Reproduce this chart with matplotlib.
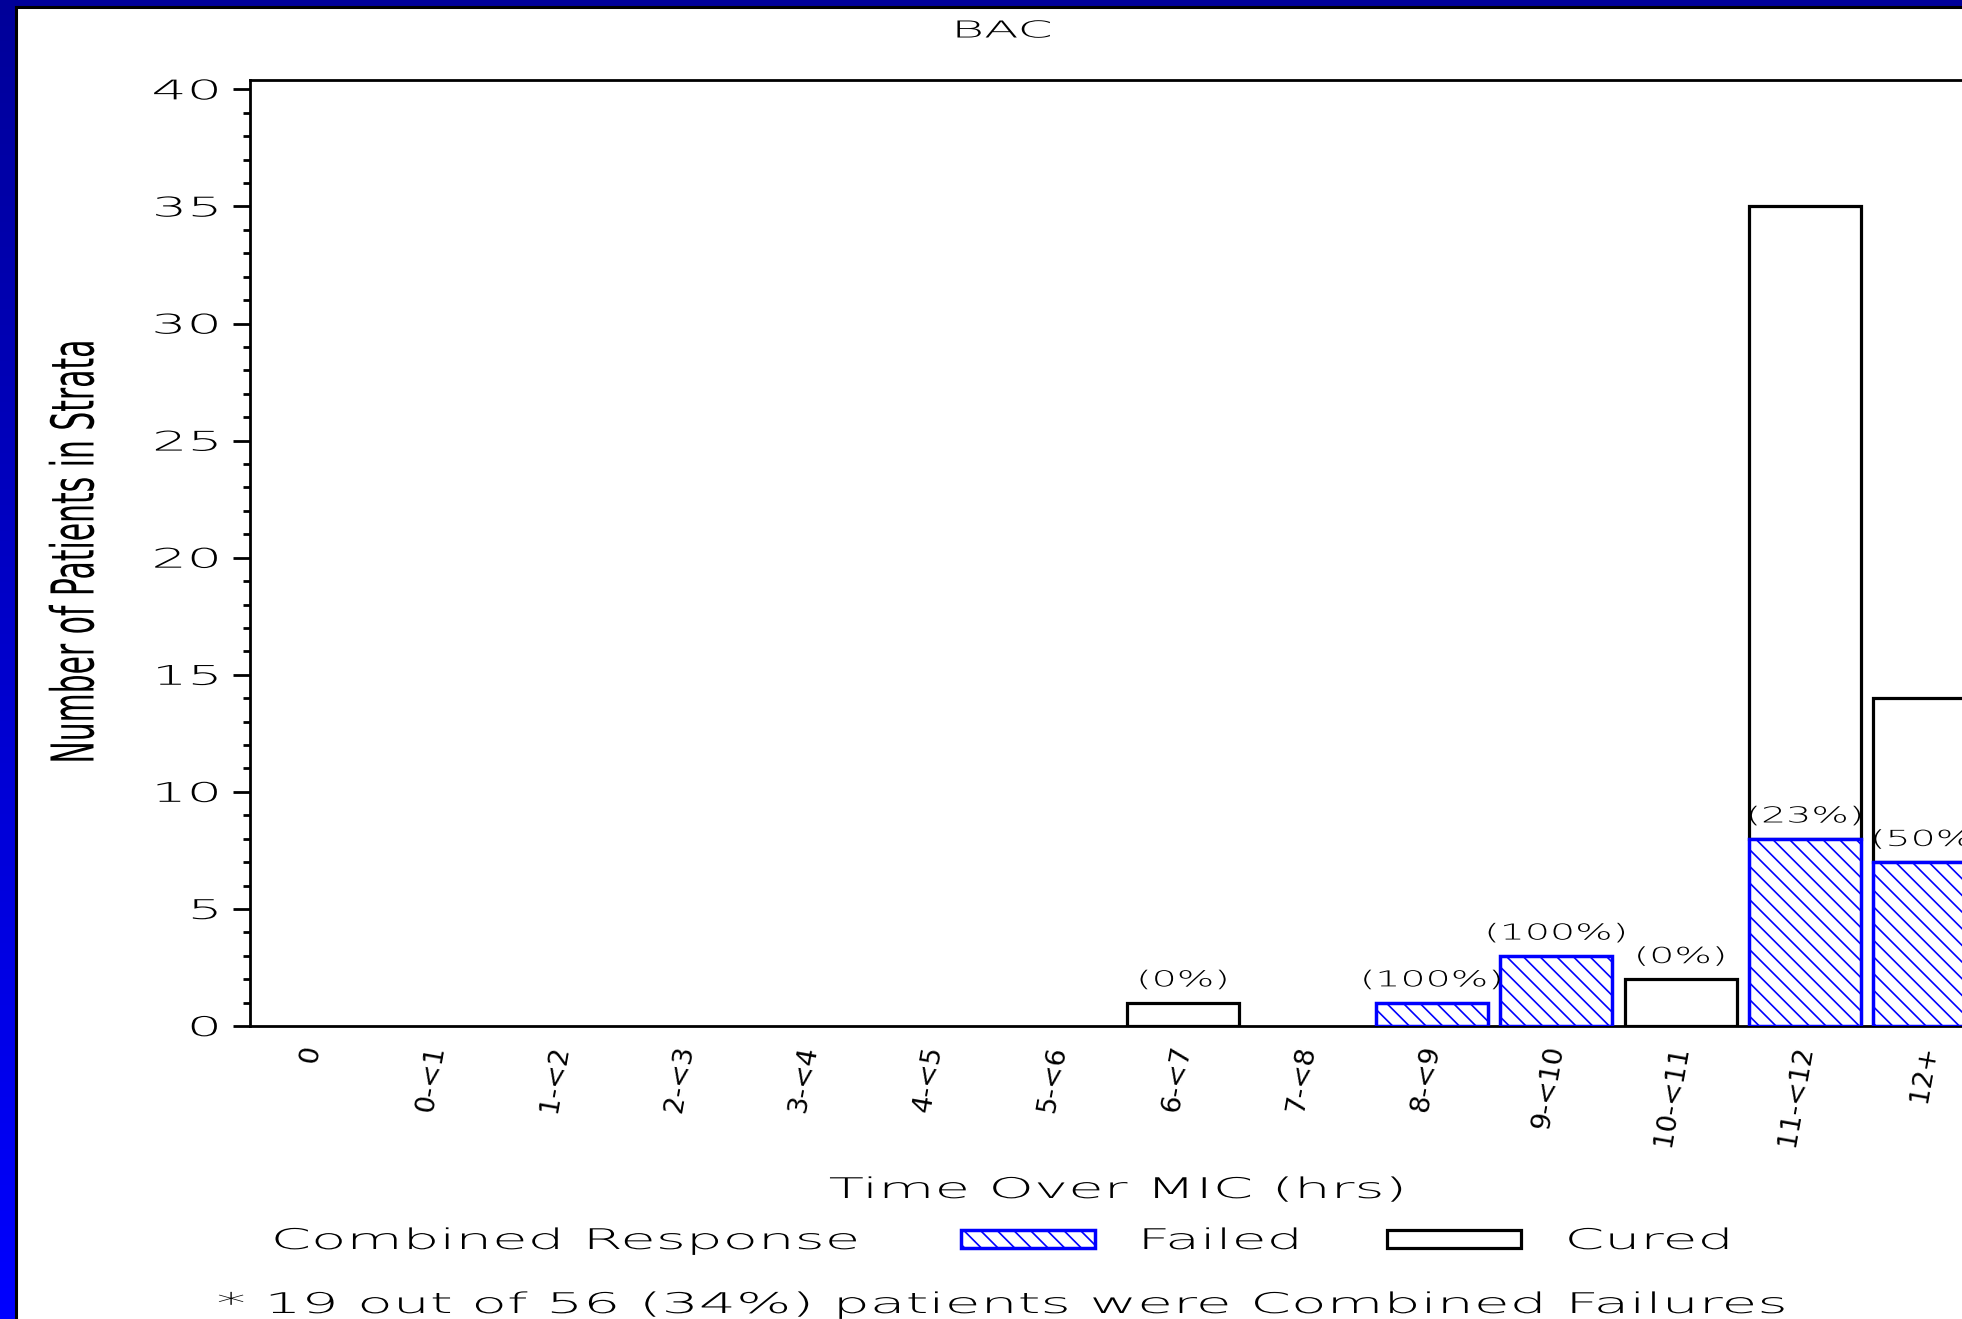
import numpy as np
import matplotlib
matplotlib.use("Agg")
import matplotlib.pyplot as plt
from matplotlib.patches import Rectangle
from matplotlib.patheffects import AbstractPathEffect
from matplotlib.transforms import Affine2D
from matplotlib.ticker import MultipleLocator

# data
categories = ['0', '0-<1', '1-<2', '2-<3', '3-<4', '4-<5', '5-<6', '6-<7',
              '7-<8', '8-<9', '9-<10', '10-<11', '11-<12', '12+']
failed = np.array([0, 0, 0, 0, 0, 0, 0, 0, 0, 1, 3, 0, 8, 7])
cured = np.array([0, 0, 0, 0, 0, 0, 0, 1, 0, 0, 0, 2, 27, 7])
title = 'BAC'
footnote = '* 19 out of 56 (34%) patients were Combined Failures'

W, H = 1962, 1319
plt.rcParams['font.family'] = ['DejaVu Sans']
plt.rcParams['font.weight'] = 'light'
plt.rcParams['axes.labelweight'] = 'light'
plt.rcParams['hatch.linewidth'] = 1.2


class Stretch(AbstractPathEffect):
    # widen/narrow glyphs of a text, the old SAS font is very wide
    def __init__(self, sx, sy=1.0, anchor='center'):
        super().__init__()
        self.sx, self.sy, self.anchor = sx, sy, anchor

    def draw_path(self, renderer, gc, tpath, affine, rgbFace=None):
        ext = tpath.get_extents()
        if self.anchor == 'left':
            px = ext.x0
        elif self.anchor == 'right':
            px = ext.x1
        else:
            px = (ext.x0 + ext.x1) / 2
        py = (ext.y0 + ext.y1) / 2
        t = Affine2D().translate(-px, -py).scale(self.sx, self.sy).translate(px, py) + affine
        renderer.draw_path(gc, tpath, t, rgbFace)


fig = plt.figure(figsize=(W / 100, H / 100), dpi=100)

# slide background: blue frame with white page
bg = fig.add_axes([0, 0, 1, 1])
bg.set_axis_off()
shade = np.zeros((256, 1, 3))
shade[:, 0, 2] = np.linspace(0.6, 1.0, 256)
bg.imshow(shade, aspect='auto', extent=(0, 1, 0, 1), origin='upper')
bg.add_patch(Rectangle((15.5 / W, -0.1), 2, 1.1 - 6.5 / H, facecolor='white',
                       edgecolor='black', lw=2.2, transform=bg.transAxes))
bg.set_xlim(0, 1)
bg.set_ylim(0, 1)

ax = fig.add_axes([250 / W, 293 / H, 1741.6 / W, 946 / H])
x = np.arange(len(categories))
total = failed + cured

m = cured > 0
cb = ax.bar(x[m], cured[m], bottom=failed[m], width=0.9, color='white',
            edgecolor='black', lw=2.3, zorder=2, label='Cured')
m = failed > 0
fb = ax.bar(x[m], failed[m], width=0.9, color='white', edgecolor='blue',
            hatch='\\\\', lw=2.5, zorder=3, label='Failed')

for i in range(len(x)):
    if total[i] == 0:
        continue
    base = failed[i] if failed[i] > 0 else total[i]
    pct = round(100 * failed[i] / total[i])
    ax.annotate('(%d%%)' % pct, (x[i], base), xytext=(0, 16),
                textcoords='offset points', ha='center', va='center',
                fontsize=15.8, path_effects=[Stretch(1.8)])

ax.set_xlim(-0.5, 13.5)
ax.set_ylim(0, 40.4)
ax.set_yticks(np.arange(0, 41, 5))
ax.yaxis.set_minor_locator(MultipleLocator(1))
ax.tick_params(axis='y', which='major', length=12, width=2, direction='out',
               pad=10, labelsize=19.5)
ax.tick_params(axis='y', which='minor', length=5, width=2, direction='out')
for lab in ax.get_yticklabels():
    lab.set_path_effects([Stretch(2.05, anchor='right')])

ax.set_xticks(x, categories, rotation=80, ha='right', va='center',
              rotation_mode='anchor', fontweight='normal')
ax.tick_params(axis='x', length=0, pad=14, labelsize=19.5)

for s in ax.spines.values():
    s.set_linewidth(2)

ax.set_xlabel('Time Over MIC (hrs)', fontsize=20.5, va='center',
              path_effects=[Stretch(2.03)])
ax.xaxis.set_label_coords((1117 - 250) / 1741.6, (1026 - 1190) / 946)
ax.set_ylabel('Number of Patients in Strata', fontsize=42.5, va='center',
              fontweight='normal', path_effects=[Stretch(0.505)])
ax.yaxis.set_label_coords((77 - 250) / 1741.6, (1026 - 552) / 946)

fig.text(1003 / W, 1 - 31 / H, title, ha='center', va='center', fontsize=16.8,
         path_effects=[Stretch(2.15)])

# legend row
fig.text(566 / W, 1 - 1241 / H, 'Combined Response', ha='center', va='center',
         fontsize=20.5, path_effects=[Stretch(2.03)])
fs = 20.5 * 100 / 72
leg = fig.legend(handles=[fb, cb], labels=['Failed', 'Cured'], ncol=2,
                 loc='center left', bbox_to_anchor=(961 / W, 1 - 1241 / H),
                 frameon=False, borderpad=0, borderaxespad=0, fontsize=20.5,
                 handlelength=134 / fs, handleheight=18 / fs,
                 handletextpad=46 / fs, columnspacing=163 / fs)
for t in leg.get_texts():
    t.set_path_effects([Stretch(2.0, anchor='left')])

fig.text(1002 / W, 1 - 1305 / H, footnote, ha='center', va='center',
         fontsize=20.5, path_effects=[Stretch(2.05)])

fig.savefig('out.png', dpi=100)
